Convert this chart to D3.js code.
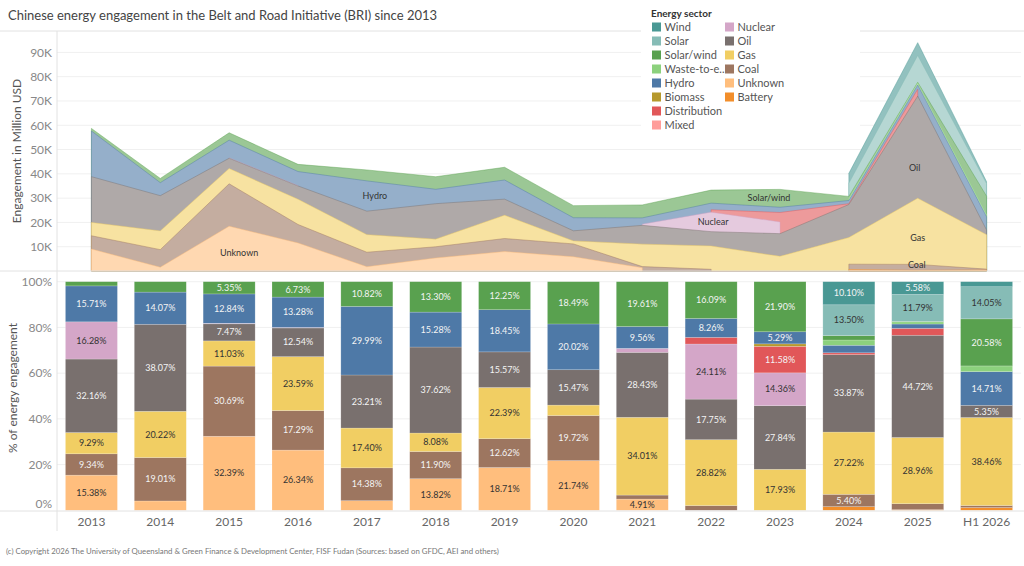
<!DOCTYPE html>
<html>
<head>
<meta charset="utf-8">
<script src="https://cdn.jsdelivr.net/npm/d3@7"></script>
<style>
  body { margin: 0; background: #fff; font-family: Lato, "Open Sans", sans-serif; }
  .axes text { font-family: Lato, sans-serif; }
</style>
</head>
<body>
<div id="canvas"></div>
<script>
// DATA
const years = ["2013","2014","2015","2016","2017","2018","2019","2020","2021","2022","2023","2024","2025","H1 2026"];

// total engagement per year, million USD
const totals = [58700, 38100, 56900, 43900, 41600, 38800, 42700, 26900, 27200, 33300, 33600, 40200, 94000, 36800];

// share of each sector per year, % (null = no engagement)
const battery      = [null, null, null, null, null, null, null, null, null, null, null, 1.6, 0.3, 1.2];
const unknown      = [15.38, 4.08, 32.39, 26.34, 4.20, 13.82, 18.71, 21.74, 4.91, null, null, null, null, null];
const coal         = [9.34, 19.01, 30.69, 17.29, 14.38, 11.90, 12.62, 19.72, 1.75, 2.07, null, 5.40, 2.6, 0.9];
const gas          = [9.29, 20.22, 11.03, 23.59, 17.40, 8.08, 22.39, 4.56, 34.01, 28.82, 17.93, 27.22, 28.96, 38.46];
const oil          = [32.16, 38.07, 7.47, 12.54, 23.21, 37.62, 15.57, 15.47, 28.43, 17.75, 27.84, 33.87, 44.72, 5.35];
const nuclear      = [16.28, null, 0.23, 0.23, null, null, null, null, 1.73, 24.11, 14.36, null, null, null];
const mixed        = [null, null, null, null, null, null, null, null, null, null, null, null, null, null];
const distribution = [null, null, null, null, null, null, null, null, null, 2.9, 11.58, 0.8, 3.0, null];
const biomass      = [null, null, null, null, null, null, null, null, null, null, 1.1, null, null, null];
const hydro        = [15.71, 14.07, 12.84, 13.28, 29.99, 15.28, 18.45, 20.02, 9.56, 8.26, 5.29, 3.3, 1.9, 14.71];
const waste        = [null, null, null, null, null, null, null, null, null, null, null, 2.3, 0.95, 2.5];
const solarWind    = [1.84, 4.55, 5.35, 6.73, 10.82, 13.30, 12.25, 18.49, 19.61, 16.09, 21.90, 1.9, 0.2, 20.58];
const solar        = [null, null, null, null, null, null, null, null, null, null, null, 13.50, 11.79, 14.05];
const wind         = [null, null, null, null, null, null, null, null, null, null, null, 10.10, 5.58, 2.2];

// stack order, bottom to top
const sectors = ["Battery","Unknown","Coal","Gas","Oil","Nuclear","Mixed","Distribution","Biomass","Hydro","Waste-to-energy","Solar/wind","Solar","Wind"];
const shares = [battery, unknown, coal, gas, oil, nuclear, mixed, distribution, biomass, hydro, waste, solarWind, solar, wind];
const sectorColors = ["#F28E2B","#FFBE7D","#9D7660","#F1CE63","#79706E","#D4A6C8","#FF9D9A","#E15759","#B6992D","#4E79A7","#8CD17D","#59A14F","#86BCB6","#499894"];

// legend, read column by column
const legendOrder = ["Wind","Solar","Solar/wind","Waste-to-energy","Hydro","Biomass","Distribution","Mixed","Nuclear","Oil","Gas","Coal","Unknown","Battery"];

const topTicks = [10000, 20000, 30000, 40000, 50000, 60000, 70000, 80000, 90000];
const pctTicks = [0, 0.2, 0.4, 0.6, 0.8, 1];

// labels placed on the area chart
const areaLabels = [
  { sector: "Unknown", year: "2015", dx: 10, dy: 4 },
  { sector: "Hydro", year: "2017", dx: 8, dy: 0 },
  { sector: "Nuclear", year: "2022", dx: 2, dy: 0 },
  { sector: "Solar/wind", year: "2023", dx: -11, dy: 0 },
  { sector: "Oil", year: "2025", dx: -3, dy: 21 },
  { sector: "Gas", year: "2025", dx: 0, dy: 7 },
  { sector: "Coal", year: "2025", dx: -1, dy: -2 }
];
const darkLabel = new Set(["Unknown","Gas","Nuclear","Solar","Waste-to-energy","Mixed","Biomass"]);

// TABLES
const shareTable = years.map((yr, i) => {
  const row = { year: yr };
  sectors.forEach((k, j) => row[k] = shares[j][i]);
  return row;
});
const amountTable = shareTable.map((d, i) => {
  const row = { year: d.year };
  sectors.forEach(k => row[k] = d[k] == null ? null : d[k] * totals[i] / 100);
  return row;
});
const color = d3.scaleOrdinal(sectors, sectorColors);
const faded = k => d3.interpolateRgb("#ffffff", color(k))(0.6);

// DIMENSIONS
const width = 1024, height = 566;
const svg = d3.select('#canvas').append('svg')
  .attr('width', width).attr('height', height);

const x = d3.scaleBand(years, [57, 1021]).paddingInner(0.245).paddingOuter(0.1225);
const cx = yr => x(yr) + x.bandwidth() / 2;
const yTop = d3.scaleLinear([0, 98800], [271, 31]);
const yPct = d3.scaleLinear([0, 1], [510.3, 281.7]);

// TITLE
svg.append('text').attr('x', 8).attr('y', 20)
  .style('font-size', '13px').style('fill', '#444')
  .text('Chinese energy engagement in the Belt and Road Initiative (BRI) since 2013');

// GRID
svg.append('g').selectAll('line').data(topTicks).enter().append('line')
  .attr('x1', 57).attr('x2', 1021).attr('y1', d => yTop(d)).attr('y2', d => yTop(d))
  .style('stroke', '#f0f0f0');
svg.append('g').selectAll('line').data(pctTicks.slice(1)).enter().append('line')
  .attr('x1', 57).attr('x2', 1021).attr('y1', d => yPct(d)).attr('y2', d => yPct(d))
  .style('stroke', '#f0f0f0');

// AREA CHART (top)
const amountStack = d3.stack().keys(sectors).value((d, k) => d[k] ?? 0)(amountTable);
const area = d3.area()
  .x(p => cx(p.data.year))
  .y0(yTop(0))
  .y1(p => yTop(p[1]));

const areaG = svg.append('g');
amountStack.slice().reverse().forEach(s => {
  // split into runs of years that have a value
  let runs = [], cur = [];
  s.forEach(p => {
    if (p.data[s.key] != null) cur.push(p);
    else { if (cur.length) runs.push(cur); cur = []; }
  });
  if (cur.length) runs.push(cur);
  runs.filter(r => r.length > 1).forEach(r => {
    areaG.append('path').attr('d', area(r))
      .style('fill', faded(s.key))
      .style('stroke', color(s.key)).style('stroke-opacity', 0.55).style('stroke-width', 0.8);
  });
});

areaLabels.forEach(l => {
  const s = amountStack.find(d => d.key === l.sector);
  const p = s[years.indexOf(l.year)];
  svg.append('text')
    .attr('x', cx(l.year) + l.dx)
    .attr('y', yTop((p[0] + p[1]) / 2) + l.dy)
    .attr('dy', '0.35em').style('text-anchor', 'middle')
    .style('font-size', '9px').style('fill', '#333')
    .text(l.sector);
});

// STACKED BARS (bottom)
const shareStack = d3.stack().keys(sectors).value((d, k) => d[k] ?? 0)
  .offset(d3.stackOffsetExpand)(shareTable);

const barG = svg.append('g');
shareStack.forEach(s => {
  barG.selectAll(null).data(s.filter(p => p.data[s.key] != null)).enter()
    .append('rect')
    .attr('x', p => x(p.data.year))
    .attr('width', x.bandwidth())
    .attr('y', p => yPct(p[1]))
    .attr('height', p => yPct(p[0]) - yPct(p[1]))
    .style('fill', color(s.key))
    .style('stroke', 'rgba(255,255,255,0.3)').style('stroke-width', 0.6);

  barG.selectAll(null).data(s.filter(p => p.data[s.key] >= 4.8)).enter()
    .append('text')
    .attr('x', p => cx(p.data.year))
    .attr('y', p => (yPct(p[0]) + yPct(p[1])) / 2)
    .attr('dy', '0.35em').style('text-anchor', 'middle')
    .style('font-size', '9px')
    .style('fill', darkLabel.has(s.key) ? '#333' : '#f4f4f4')
    .text(p => d3.format('.2f')(p.data[s.key]) + '%');
});

// FRAME LINES
const frame = svg.append('g').style('stroke', '#e2e2e2');
frame.append('line').attr('x1', 0).attr('x2', 1024).attr('y1', 31).attr('y2', 31);
frame.append('line').attr('x1', 0).attr('x2', 1024).attr('y1', 271).attr('y2', 271);
frame.append('line').attr('x1', 0).attr('x2', 1024).attr('y1', 511).attr('y2', 511);
frame.append('line').attr('x1', 57).attr('x2', 57).attr('y1', 31).attr('y2', 531);

// AXES
const yAxTop = svg.append('g').attr('class', 'axes').attr('transform', 'translate(57,0)')
  .call(d3.axisLeft(yTop).tickValues(topTicks).tickFormat(d => d / 1000 + 'K').tickSize(0).tickPadding(5));
const yAxPct = svg.append('g').attr('class', 'axes').attr('transform', 'translate(57,0)')
  .call(d3.axisLeft(yPct).tickValues(pctTicks).tickFormat(d3.format('.0%')).tickSize(0).tickPadding(5));
yAxPct.selectAll('.tick').filter(d => d === 0).select('text').attr('y', -7);
const xAx = svg.append('g').attr('class', 'axes').attr('transform', 'translate(0,511)')
  .call(d3.axisBottom(x).tickSize(0).tickPadding(6));

[yAxTop, yAxPct, xAx].forEach(a => {
  a.select('.domain').remove();
  a.selectAll('text').style('font-size', '12px').style('fill', '#888');
});
xAx.selectAll('text').style('fill', '#666');

svg.append('text').attr('transform', 'translate(21,151)rotate(-90)')
  .style('text-anchor', 'middle').style('font-size', '12px').style('fill', '#555')
  .text('Engagement in Million USD');
svg.append('text').attr('transform', 'translate(17,388)rotate(-90)')
  .style('text-anchor', 'middle').style('font-size', '12px').style('fill', '#555')
  .text('% of energy engagement');

// LEGEND
const legend = svg.append('g');
legend.append('rect').attr('x', 641).attr('y', 0).attr('width', 219).attr('height', 135).style('fill', '#fff');
legend.append('text').attr('x', 651).attr('y', 17)
  .style('font-size', '10px').style('font-weight', 'bold').style('fill', '#333')
  .text('Energy sector');
legendOrder.forEach((k, i) => {
  const col = Math.floor(i / 8), row = i % 8;
  const lx = col ? 725 : 652, ly = 27 + row * 14;
  legend.append('rect').attr('x', lx).attr('y', ly - 4.5).attr('width', 9).attr('height', 9)
    .style('fill', color(k));
  legend.append('text').attr('x', lx + 12.5).attr('y', ly).attr('dy', '0.35em')
    .style('font-size', '11px').style('fill', '#555')
    .text(k === 'Waste-to-energy' ? 'Waste-to-e..' : k);
});

// FOOTER
svg.append('text').attr('x', 6).attr('y', 554)
  .style('font-size', '7.8px').style('fill', '#777')
  .text('(c) Copyright 2026 The University of Queensland & Green Finance & Development Center, FISF Fudan (Sources: based on GFDC, AEI and others)');
</script>
</body>
</html>
